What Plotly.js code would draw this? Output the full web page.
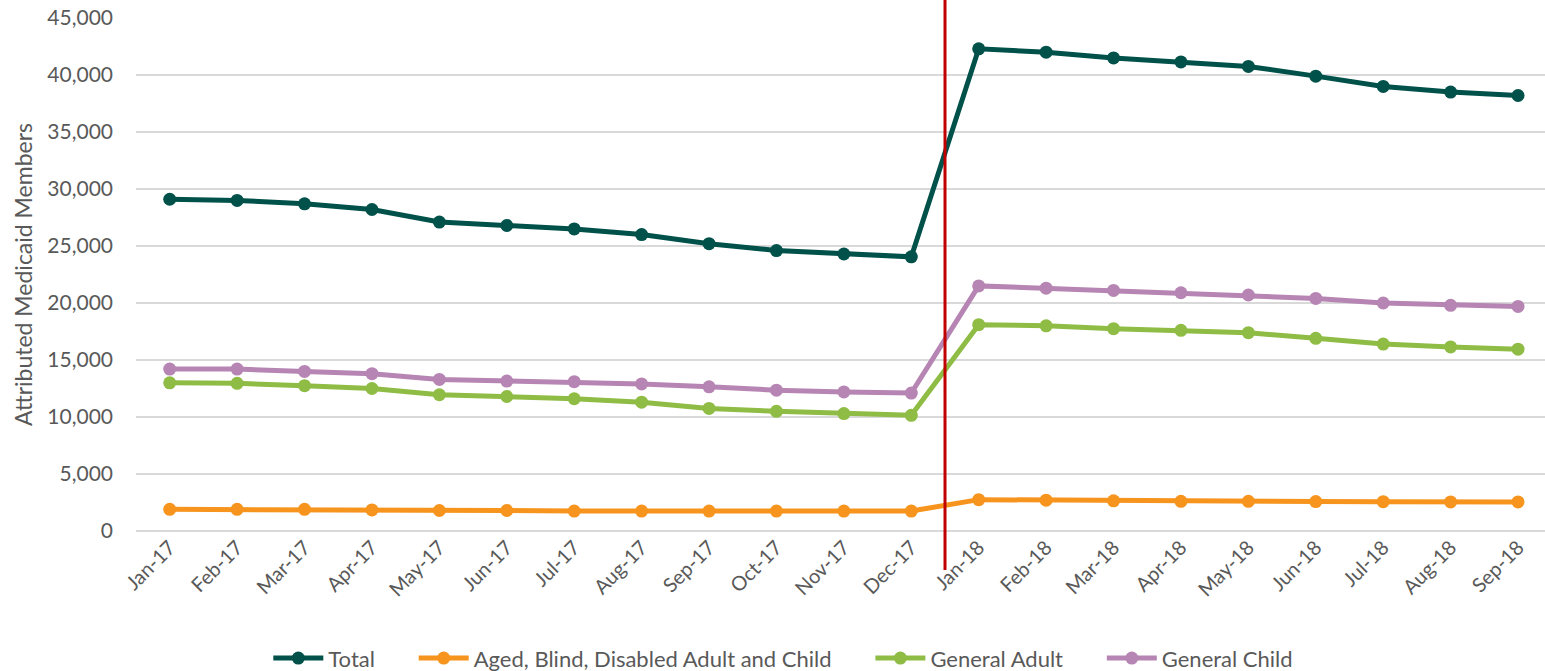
<!DOCTYPE html>
<html>
<head>
<meta charset="utf-8">
<script src="https://cdn.plot.ly/plotly-3.0.1.min.js"></script>
<style>html,body{margin:0;padding:0;background:#fff;}#chart{width:1545px;height:671px;}</style>
</head>
<body>
<div id="chart"></div>
<script>
const months = ["Jan-17","Feb-17","Mar-17","Apr-17","May-17","Jun-17","Jul-17","Aug-17","Sep-17","Oct-17","Nov-17","Dec-17",
                "Jan-18","Feb-18","Mar-18","Apr-18","May-18","Jun-18","Jul-18","Aug-18","Sep-18"];
const total = [29100,29000,28700,28200,27100,26800,26500,26000,25200,24600,24300,24050,
               42300,42000,41500,41150,40750,39900,39000,38500,38200];
const abd = [1900,1900,1900,1850,1800,1800,1750,1750,1750,1750,1750,1750,
             2750,2700,2650,2600,2600,2580,2570,2550,2550];
const genAdult = [13000,12950,12750,12500,11950,11800,11600,11300,10750,10500,10300,10150,
                  18100,18000,17750,17600,17400,16900,16400,16150,15950];
const genChild = [14200,14200,14000,13800,13300,13150,13100,12900,12650,12350,12200,12100,
                  21500,21300,21100,20900,20700,20400,20000,19800,19700];
const seriesNames = ["Total","Aged, Blind, Disabled Adult and Child","General Adult","General Child"];
const colors = ["#00514A","#F7941D","#8FBC45","#B685B3"];
const dividerPos = 11.5;

const font = "Lato, 'Open Sans', sans-serif";
const pad = "\u00A0\u00A0\u00A0\u00A0\u00A0\u00A0";
const data = [total, abd, genAdult, genChild].map((vals, i) => ({
  type: "scatter", mode: "lines+markers", x: months, y: vals,
  name: i < 3 ? seriesNames[i] + pad : seriesNames[i],
  line: {color: colors[i], width: 5}, marker: {color: colors[i], size: 13}
}));

const layout = {
  width: 1545, height: 671,
  margin: {l: 136, r: 0, t: 18, b: 140},
  paper_bgcolor: "#fff", plot_bgcolor: "#fff",
  font: {family: font, color: "#595959", size: 20},
  showlegend: true,
  legend: {orientation: "h", xref: "container", yref: "container", x: 0.507, xanchor: "center",
           y: 0.019, yanchor: "middle", font: {size: 22, color: "#595959"}, itemwidth: 50, tracegroupgap: 0},
  xaxis: {type: "category", categoryorder: "array", categoryarray: months, range: [-0.5, 20.4],
          tickangle: -45, showgrid: false, zeroline: false, showline: false, ticks: "",
          tickfont: {size: 20, color: "#595959"}, fixedrange: true},
  yaxis: {range: [0, 45000], dtick: 5000, tickformat: ",d", showgrid: true, gridcolor: "#D9D9D9", gridwidth: 1.5,
          zeroline: true, zerolinecolor: "#D9D9D9", zerolinewidth: 1.5, showline: false, ticks: "",
          ticklabelstandoff: 22, tickfont: {size: 21, color: "#595959"},
          title: {text: "Attributed Medicaid Members", font: {size: 23, color: "#595959"}, standoff: 8}},
  shapes: [{type: "line", xref: "x", yref: "paper", x0: dividerPos, x1: dividerPos, y0: -0.076, y1: 1.036,
            line: {color: "#C00000", width: 3}}]
};
Plotly.newPlot("chart", data, layout, {displayModeBar: false, staticPlot: true});
</script>
</body>
</html>
